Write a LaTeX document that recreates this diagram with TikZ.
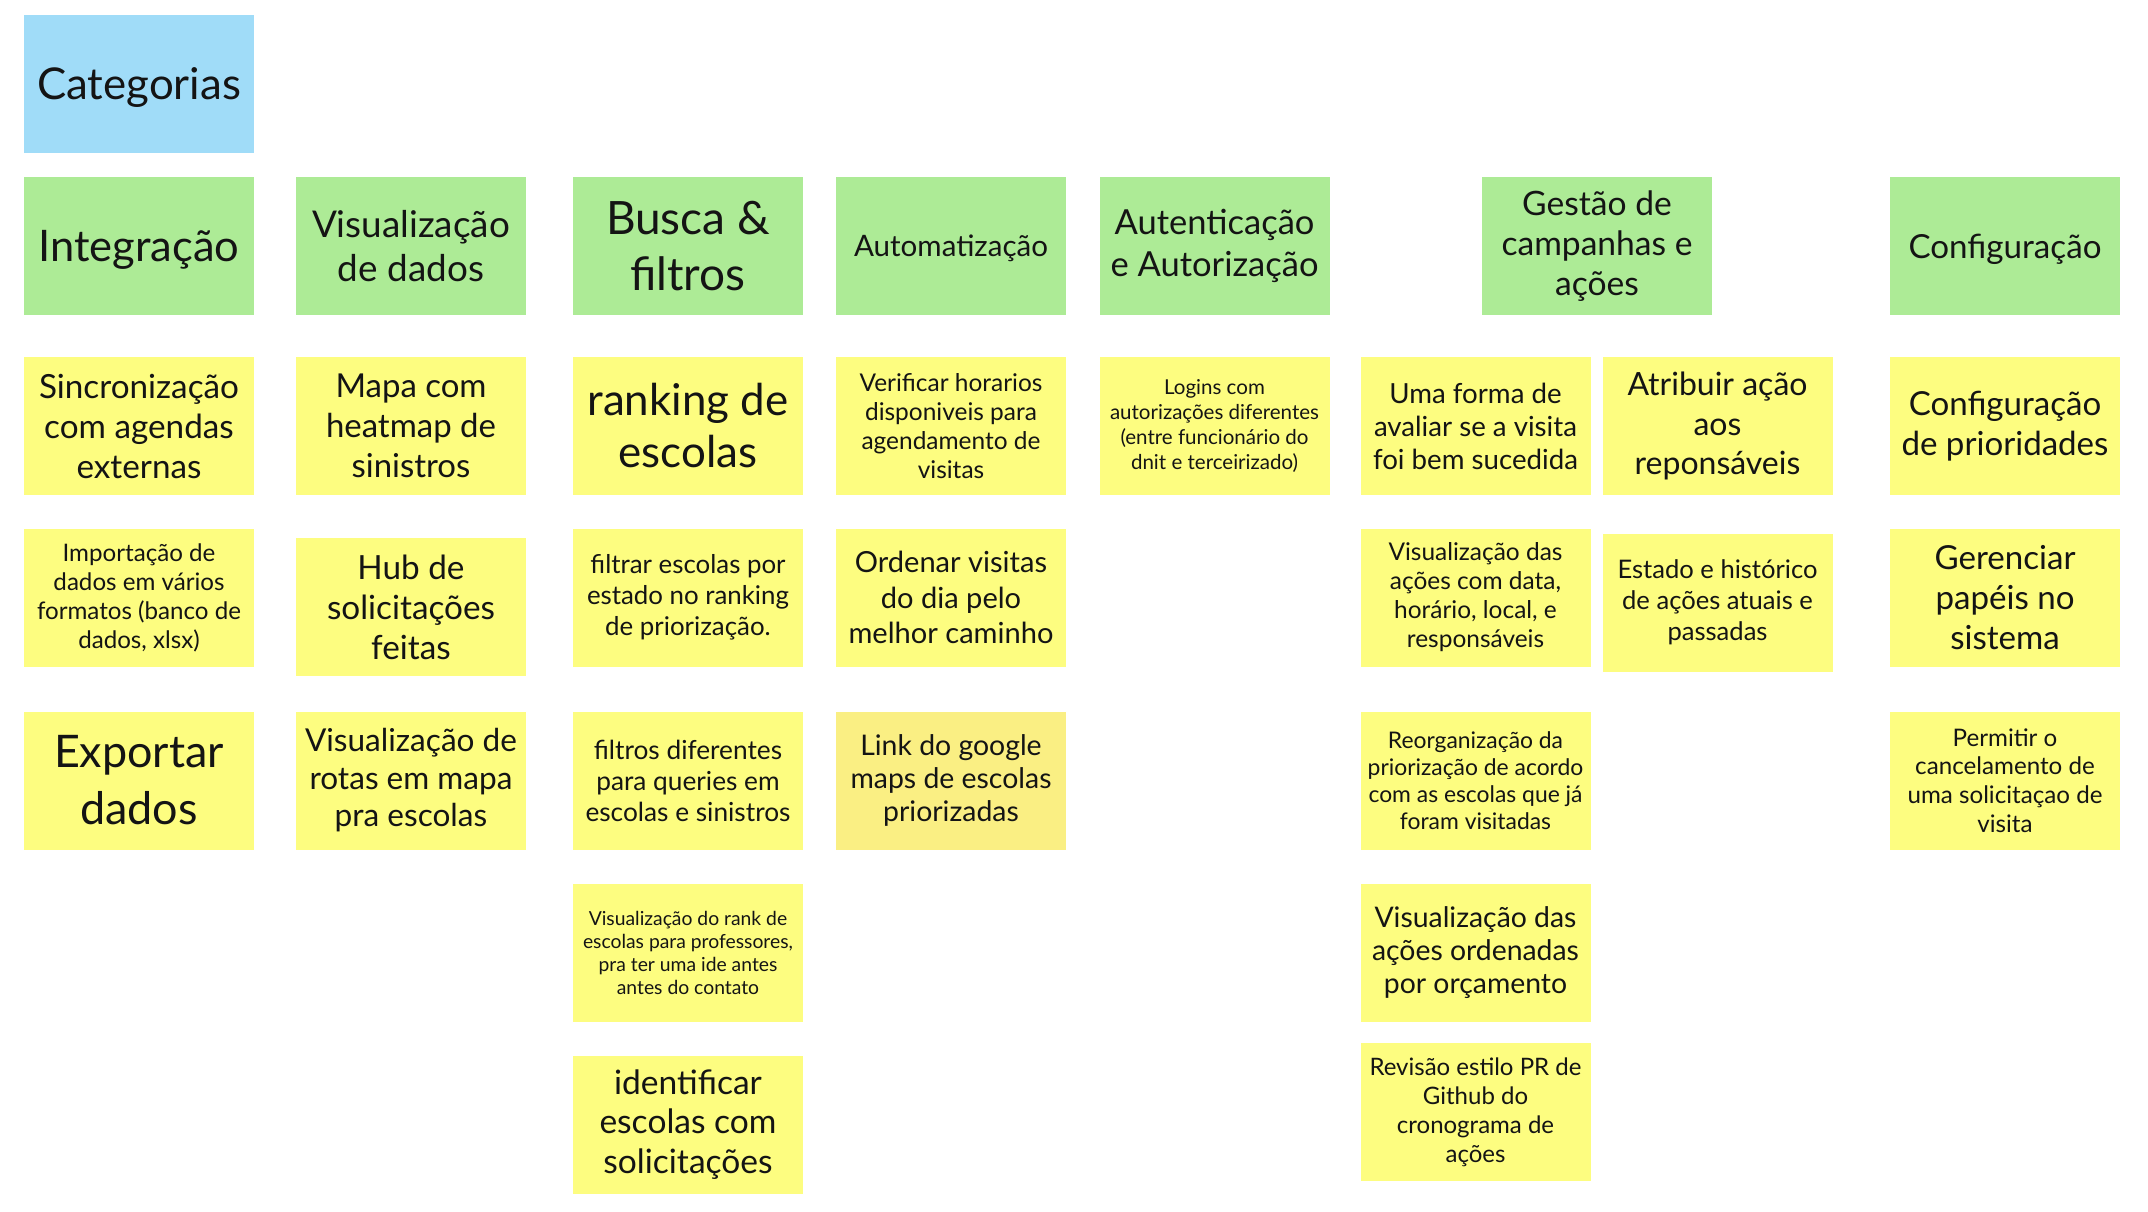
\documentclass[tikz,border=0pt]{standalone}
\usepackage{fontspec}
\setmainfont{Lato}
\definecolor{yel}{RGB}{253,253,128}
\definecolor{yelo}{RGB}{250,239,131}
\definecolor{grn}{RGB}{173,235,150}
\definecolor{blu}{RGB}{160,220,248}
\definecolor{ink}{RGB}{20,20,20}
\newlength\fitw
\newcommand\fitfont[3]{%
  \settowidth\fitw{\fontsize{10pt}{12pt}\selectfont #3}%
  \pgfmathsetmacro\fitsz{10*#1/\fitw}%
  \fontsize{\fitsz pt}{#2 pt}\selectfont}
\tikzset{
  sticky/.style={rectangle, inner sep=0pt, minimum width=230pt, minimum height=138pt,
    align=center, text=ink, fill=yel},
  head/.style={sticky, fill=grn},
  catbox/.style={sticky, fill=blu},
  oneline/.style={text depth=0pt},
  fit/.style n args={3}{font={\fitfont{#1}{#2}{#3}}}
}
\begin{document}
\begin{tikzpicture}[x=1pt,y=-1pt]
\useasboundingbox (0,0) rectangle (2148,1211);
% title
\node[catbox, oneline, fit={204}{50}{Categorias}] (cat) at (139,84) {Categorias};
% headers
\node[head, oneline, fit={201}{44}{Integração}] (h1) at (139,246) {Integração};
\node[head, fit={198}{43.6}{Visualização}] (h2) at (411,246) {Visualização\\de dados};
\node[head, fit={164}{56}{Busca \&}] (h3) at (688,246) {Busca \&\\filtros};
\node[head, oneline, fit={194}{44}{Automatização}] (h4) at (951,246) {Automatização};
\node[head, fit={208}{42.5}{e Autorização}] (h5) at (1214.5,246) {Autenticação\\e Autorização};
\node[head, fit={191}{40}{campanhas e}] (h6) at (1597,246) {Gestão de\\campanhas e\\ações};
\node[head, oneline, fit={193}{44}{Configuração}] (h8) at (2005,246) {Configuração};
% row 1
\node[sticky, fit={200}{40}{Sincronização}] (a1) at (139,426) {Sincronização\\com agendas\\externas};
\node[sticky, fit={170}{40}{heatmap de}] (b1) at (411,426) {Mapa com\\heatmap de\\sinistros};
\node[sticky, fit={201}{52}{ranking de}] (c1) at (688,426) {ranking de\\escolas};
\node[sticky, fit={179}{29}{agendamento de}] (d1) at (951,426) {Verificar horarios\\disponiveis para\\agendamento de\\visitas};
\node[sticky, fit={209}{24.7}{autorizações diferentes}] (e1) at (1214.5,426) {Logins com\\autorizações diferentes\\(entre funcionário do\\dnit e terceirizado)};
\node[sticky, fit={205}{33}{foi bem sucedida}] (f1) at (1475.5,426) {Uma forma de\\avaliar se a visita\\foi bem sucedida};
\node[sticky, fit={180}{39.5}{Atribuir ação}] (g1) at (1717.5,426) {Atribuir ação\\aos\\reponsáveis};
\node[sticky, fit={207}{39.4}{de prioridades}] (k1) at (2005,426) {Configuração\\de prioridades};
% row 2
\node[sticky, fit={204}{29}{formatos (banco de}] (a2) at (139,597.5) {Importação de\\dados em vários\\formatos (banco de\\dados, xlsx)};
\node[sticky, fit={168}{40}{solicitações}] (b2) at (411,607) {Hub de\\solicitações\\feitas};
\node[sticky, fit={202}{31}{estado no ranking}] (c2) at (688,597.5) {filtrar escolas por\\estado no ranking\\de priorização.};
\node[sticky, fit={205}{35.5}{melhor caminho}] (d2) at (951,597.5) {Ordenar visitas\\do dia pelo\\melhor caminho};
\node[sticky, fit={174}{29}{Visualização das}] (f2) at (1475.5,597.5) {Visualização das\\ações com data,\\horário, local, e\\responsáveis};
\node[sticky, fit={200}{31}{Estado e histórico}] (g2) at (1717.5,602.5) {Estado e histórico\\de ações atuais e\\passadas};
\node[sticky, fit={141}{40}{Gerenciar}] (k2) at (2005,597.5) {Gerenciar\\papéis no\\sistema};
% row 3
\node[sticky, fit={170}{57}{Exportar}] (a3) at (139,780.5) {Exportar\\dados};
\node[sticky, fit={212}{37.5}{Visualização de}] (b3) at (411,780.5) {Visualização de\\rotas em mapa\\pra escolas};
\node[sticky, fit={205}{31}{escolas e sinistros}] (c3) at (688,780.5) {filtros diferentes\\para queries em\\escolas e sinistros};
\node[sticky, fill=yelo, fit={201}{33}{maps de escolas}] (d3) at (951,780.5) {Link do google\\maps de escolas\\priorizadas};
\node[sticky, fit={214}{27}{com as escolas que já}] (f3) at (1475.5,780.5) {Reorganização da\\priorização de acordo\\com as escolas que já\\foram visitadas};
\node[sticky, fit={195}{28.6}{uma solicitaçao de}] (k3) at (2005,780.5) {Permitir o\\cancelamento de\\uma solicitaçao de\\visita};
% row 4
\node[sticky, fit={210}{23}{escolas para professores,}] (c4) at (688,953) {Visualização do rank de\\escolas para professores,\\pra ter uma ide antes\\antes do contato};
\node[sticky, fit={207}{33}{ações ordenadas}] (f4) at (1475.5,953) {Visualização das\\ações ordenadas\\por orçamento};
% row 5
\node[sticky, fit={177}{39.4}{escolas com}] (c5) at (688,1124.5) {identificar\\escolas com\\solicitações};
\node[sticky, fit={212}{29}{Revisão estilo PR de}] (f5) at (1475.5,1112) {Revisão estilo PR de\\Github do\\cronograma de\\ações};
\end{tikzpicture}
\end{document}
